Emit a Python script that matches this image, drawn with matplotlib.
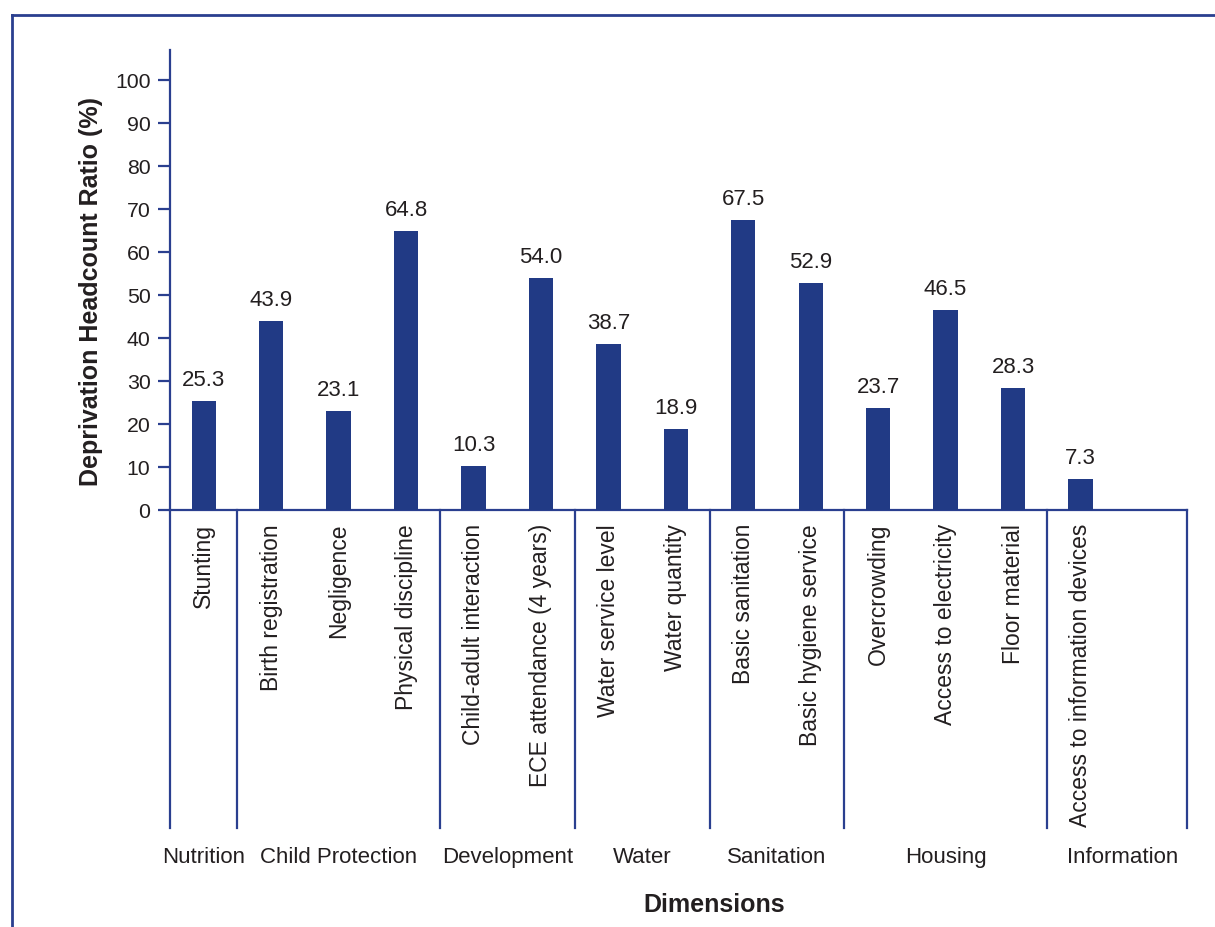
import matplotlib
matplotlib.use("Agg")
import matplotlib.pyplot as plt
from matplotlib.lines import Line2D

categories = ["Stunting", "Birth registration", "Negligence", "Physical discipline",
              "Child-adult interaction", "ECE attendance (4 years)", "Water service level",
              "Water quantity", "Basic sanitation", "Basic hygiene service", "Overcrowding",
              "Access to electricity", "Floor material", "Access to information devices"]
values = [25.3, 43.9, 23.1, 64.8, 10.3, 54.0, 38.7, 18.9, 67.5, 52.9, 23.7, 46.5, 28.3, 7.3]
groups = ["Nutrition", "Child Protection", "Development", "Water", "Sanitation", "Housing", "Information"]
group_sizes = [1, 3, 2, 2, 2, 3, 1]
yticks = list(range(0, 101, 10))

plt.rcParams['font.family'] = ['Liberation Sans', 'DejaVu Sans']
TXT = "#231f20"
BAR = "#213a85"
LINE = "#2a3f8f"

fig = plt.figure(figsize=(12.15, 9.27), dpi=100)
ax = fig.add_axes([170/1215, 1-510/927, (1187-170)/1215, 460/927])

x = list(range(len(categories)))
ax.bar(x, values, width=0.36, color=BAR, zorder=3)
for xi, v in zip(x, values):
    ax.annotate(f"{v:.1f}", (xi, v), xytext=(0, 10.8), textcoords="offset points",
                ha="center", va="baseline", fontsize=16, color=TXT)

xmax = 14.58
ax.set_xlim(-0.5, xmax)
ax.set_ylim(0, 107)
ax.set_yticks(yticks)
ax.set_xticks(x)
ax.set_xticklabels(categories, rotation=90, fontsize=16.5, color=TXT, va="top")
ax.tick_params(axis="x", length=0, pad=10)
ax.tick_params(axis="y", length=8.6, width=1.6, color=LINE, labelsize=15.3, labelcolor=TXT, pad=5.5)

for s in ["top", "right"]:
    ax.spines[s].set_visible(False)
for s in ["left", "bottom"]:
    ax.spines[s].set_color(LINE)
    ax.spines[s].set_linewidth(1.6)

# group dividers
trans = ax.get_xaxis_transform()
bounds = [-0.5]
acc = -0.5
for g in group_sizes:
    acc += g
    bounds.append(acc)
bounds[-1] = xmax
for b in bounds:
    ax.add_line(Line2D([b, b], [0, -0.691], transform=trans, color=LINE, lw=1.6, clip_on=False))

centers = []
for i in range(len(groups)):
    centers.append((bounds[i] + bounds[i+1]) / 2)
centers[-1] = 13.62
for c, g in zip(centers, groups):
    ax.text(c, -0.767, g, transform=trans, ha="center", va="baseline", fontsize=16, color=TXT)

ax.text(7.57, -0.874, "Dimensions", transform=trans, ha="center", va="baseline",
        fontsize=18, fontweight="bold", color=TXT)

ax.set_ylabel("Deprivation Headcount Ratio (%)", fontsize=18, fontweight="bold", color=TXT)
ax.yaxis.set_label_coords(-0.066, 0.474)

# frame
fig.add_artist(Line2D([12/1215, 1], [1-15/927, 1-15/927], transform=fig.transFigure, color=LINE, lw=2))
fig.add_artist(Line2D([12/1215, 12/1215], [0, 1-15/927], transform=fig.transFigure, color=LINE, lw=2))

fig.savefig("out.png", dpi=100)
